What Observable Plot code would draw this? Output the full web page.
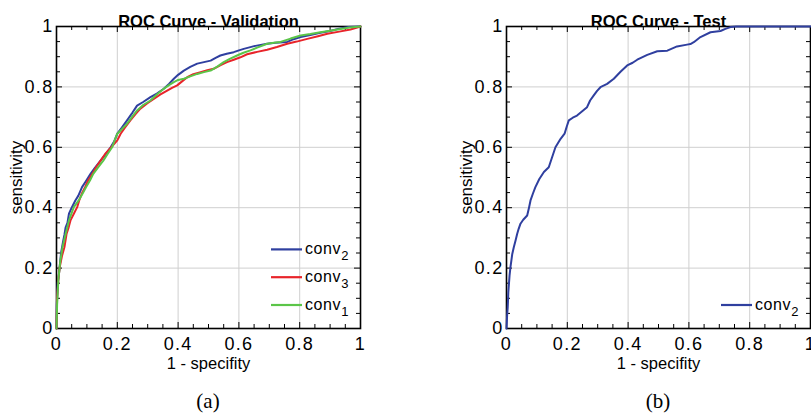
<!DOCTYPE html>
<html><head><meta charset="utf-8">
<script src="https://cdn.jsdelivr.net/npm/d3@7"></script>
<script src="https://cdn.jsdelivr.net/npm/@observablehq/plot@0.6"></script>
<style>
html,body{margin:0;padding:0;background:#fff;width:811px;height:414px;overflow:hidden;position:relative;font-family:"Liberation Sans",Arial,sans-serif;}
.panel{position:absolute;top:0;width:380px;height:375px;}
.panel svg{overflow:visible}
g[aria-label="x-axis tick label"] text, g[aria-label="y-axis tick label"] text{letter-spacing:1.3px;font-size:18px}
g[aria-label="title"] text{letter-spacing:1.2px}
g[aria-label="xlabel"] text{letter-spacing:0.9px}
.legend{position:absolute;left:0;top:0;}
.legend text{letter-spacing:0.6px}
.cap{position:absolute;font-family:"Liberation Serif","DejaVu Serif",serif;font-size:21px;top:389px;transform:translateX(-50%)}
</style></head><body>
<div id="a" class="panel" style="left:0"></div>
<div id="b" class="panel" style="left:450px"></div>
<div class="cap" style="left:208px">(a)</div>
<div class="cap" style="left:658px">(b)</div>
<script>
// ---- data: [1 - specificity, sensitivity]
const valConv2 = [[0,0],[0.001,0.08],[0.004,0.15],[0.008,0.18],[0.012,0.22],[0.015,0.25],[0.022,0.29],[0.026,0.31],[0.03,0.335],[0.036,0.35],[0.041,0.38],[0.05,0.40],[0.062,0.424],[0.072,0.44],[0.084,0.468],[0.095,0.485],[0.112,0.512],[0.125,0.53],[0.145,0.556],[0.16,0.575],[0.178,0.60],[0.19,0.62],[0.2,0.645],[0.215,0.665],[0.232,0.689],[0.25,0.715],[0.265,0.738],[0.285,0.75],[0.309,0.766],[0.33,0.778],[0.353,0.794],[0.37,0.81],[0.386,0.827],[0.40,0.84],[0.419,0.854],[0.44,0.866],[0.463,0.877],[0.485,0.882],[0.507,0.887],[0.525,0.897],[0.539,0.904],[0.56,0.91],[0.583,0.915],[0.60,0.921],[0.616,0.926],[0.65,0.935],[0.693,0.943],[0.72,0.946],[0.759,0.949],[0.78,0.958],[0.803,0.965],[0.835,0.972],[0.868,0.979],[0.9,0.985],[0.93,0.993],[0.96,0.998],[1,1]];
const valConv3 = [[0,0],[0.002,0.1],[0.006,0.16],[0.01,0.2],[0.018,0.24],[0.026,0.269],[0.033,0.313],[0.04,0.335],[0.046,0.358],[0.057,0.38],[0.068,0.402],[0.075,0.425],[0.083,0.446],[0.094,0.468],[0.104,0.49],[0.118,0.512],[0.13,0.534],[0.145,0.556],[0.16,0.578],[0.18,0.60],[0.2,0.623],[0.211,0.645],[0.225,0.665],[0.243,0.689],[0.26,0.71],[0.276,0.728],[0.298,0.745],[0.32,0.76],[0.342,0.775],[0.364,0.788],[0.38,0.797],[0.397,0.805],[0.415,0.82],[0.43,0.832],[0.45,0.842],[0.474,0.849],[0.496,0.855],[0.517,0.86],[0.54,0.872],[0.561,0.882],[0.583,0.89],[0.605,0.898],[0.627,0.908],[0.66,0.916],[0.693,0.923],[0.725,0.932],[0.759,0.943],[0.79,0.95],[0.825,0.959],[0.86,0.968],[0.891,0.976],[0.93,0.983],[0.967,0.99],[1,1]];
const valConv1 = [[0,0],[0.002,0.08],[0.006,0.16],[0.012,0.22],[0.02,0.27],[0.03,0.313],[0.041,0.358],[0.057,0.402],[0.073,0.424],[0.085,0.445],[0.097,0.468],[0.11,0.49],[0.121,0.512],[0.138,0.535],[0.154,0.556],[0.168,0.578],[0.183,0.60],[0.192,0.625],[0.2,0.645],[0.215,0.66],[0.232,0.678],[0.248,0.70],[0.265,0.722],[0.285,0.74],[0.309,0.755],[0.33,0.775],[0.353,0.794],[0.37,0.806],[0.386,0.816],[0.40,0.823],[0.419,0.827],[0.44,0.835],[0.463,0.843],[0.485,0.849],[0.507,0.854],[0.53,0.868],[0.55,0.882],[0.57,0.893],[0.594,0.904],[0.615,0.913],[0.638,0.921],[0.66,0.93],[0.693,0.943],[0.715,0.946],[0.737,0.949],[0.77,0.96],[0.803,0.97],[0.835,0.975],[0.868,0.981],[0.9,0.986],[0.934,0.992],[0.965,0.997],[1,1]];
const testConv2 = [[0,0],[0.001,0.02],[0.002,0.043],[0.004,0.07],[0.005,0.093],[0.006,0.12],[0.008,0.148],[0.01,0.175],[0.013,0.203],[0.016,0.225],[0.019,0.247],[0.024,0.269],[0.03,0.292],[0.035,0.313],[0.04,0.33],[0.046,0.347],[0.055,0.36],[0.068,0.374],[0.074,0.40],[0.079,0.424],[0.087,0.447],[0.095,0.468],[0.108,0.495],[0.123,0.518],[0.139,0.534],[0.15,0.567],[0.161,0.60],[0.17,0.615],[0.178,0.628],[0.191,0.645],[0.198,0.668],[0.205,0.689],[0.218,0.698],[0.232,0.705],[0.25,0.72],[0.265,0.733],[0.275,0.755],[0.287,0.772],[0.298,0.787],[0.309,0.799],[0.331,0.81],[0.353,0.827],[0.375,0.85],[0.397,0.871],[0.415,0.88],[0.43,0.89],[0.463,0.906],[0.496,0.918],[0.529,0.92],[0.561,0.934],[0.594,0.94],[0.605,0.942],[0.616,0.948],[0.638,0.965],[0.671,0.981],[0.704,0.985],[0.72,0.992],[0.737,0.998],[0.757,1],[1,1]];

const majorTicks = [0, 0.2, 0.4, 0.6, 0.8, 1];
const minorTicks = [0.05,0.1,0.15,0.25,0.3,0.35,0.45,0.5,0.55,0.65,0.7,0.75,0.85,0.9,0.95];
const titles = ["ROC Curve - Validation", "ROC Curve - Test"];
const xLabel = "1 - specifity";
const yLabel = "sensitivity";
const captions = ["(a)", "(b)"];

const BLUE = "#2f3f9f", RED = "#e8242a", GREEN = "#5bc548";
const validationSeries = [
  {name: "conv", sub: "2", data: valConv2, color: BLUE},
  {name: "conv", sub: "3", data: valConv3, color: RED},
  {name: "conv", sub: "1", data: valConv1, color: GREEN}
];
const testSeries = [
  {name: "conv", sub: "2", data: testConv2, color: BLUE}
];

const fmt = d => String(+d.toFixed(2));

function panel(el, title, series) {
  const W = 380, H = 375, mL = 56, mR = 20, mT = 26, mB = 47;
  const fw = W - mL - mR, fh = H - mT - mB;
  const ticks = (vals, len) => [
    Plot.ruleX(vals, {x: d => d, insetTop: fh - len, stroke: "#000", strokeWidth: 1}),
    Plot.ruleX(vals, {x: d => d, insetBottom: fh - len, stroke: "#000", strokeWidth: 1}),
    Plot.ruleY(vals, {y: d => d, insetRight: fw - len, stroke: "#000", strokeWidth: 1}),
    Plot.ruleY(vals, {y: d => d, insetLeft: fw - len, stroke: "#000", strokeWidth: 1})
  ];
  const chart = Plot.plot({
    width: W, height: H,
    marginLeft: mL, marginRight: mR, marginTop: mT, marginBottom: mB,
    style: {fontFamily: '"Liberation Sans", Arial, sans-serif', fontSize: "18px", background: "transparent", color: "#000"},
    x: {domain: [0, 1]},
    y: {domain: [0, 1]},
    marks: [
      Plot.gridX(majorTicks.slice(1, -1), {stroke: "#cfcfcf", strokeOpacity: 1, strokeWidth: 1}),
      Plot.gridY(majorTicks.slice(1, -1), {stroke: "#cfcfcf", strokeOpacity: 1, strokeWidth: 1}),
      ...ticks(majorTicks.slice(1, -1), 6),
      ...ticks(minorTicks, 4),
      Plot.frame({stroke: "#000", strokeWidth: 1.6}),
      ...series.map(s => Plot.line(s.data, {x: d => d[0], y: d => d[1], stroke: s.color, strokeWidth: 2, curve: "linear"})),
      Plot.axisX(majorTicks, {anchor: "bottom", tickSize: 0, tickPadding: 9, tickFormat: fmt, label: null, fontSize: 18}),
      Plot.axisY(majorTicks, {anchor: "left", tickSize: 0, tickPadding: 3, tickFormat: fmt, label: null, fontSize: 18}),
      Plot.text([title], {text: d => d, frameAnchor: "top", dy: -11, fontSize: 16.5, fontWeight: "bold", ariaLabel: "title"}),
      Plot.text([xLabel], {text: d => d, frameAnchor: "bottom", dy: 40, fontSize: 16.5, ariaLabel: "xlabel"}),
      Plot.text([yLabel], {text: d => d, frameAnchor: "left", textAnchor: "middle", dx: -40, rotate: -90, fontSize: 17})
    ]
  });
  el.appendChild(chart);

  // legend (bottom-right, inside frame)
  const lg = d3.select(el).append("svg").attr("class", "legend")
    .attr("width", W).attr("height", H).style("overflow", "visible");
  const n = series.length, step = 27.8, yLast = 305;
  series.forEach((s, i) => {
    const y = yLast - (n - 1 - i) * step;
    lg.append("line").attr("x1", 271).attr("x2", 302).attr("y1", y).attr("y2", y)
      .attr("stroke", s.color).attr("stroke-width", 2.2);
    const t = lg.append("text").attr("x", 305).attr("y", y + 5)
      .attr("font-size", 16).attr("fill", "#000")
      .attr("font-family", '"Liberation Sans", Arial, sans-serif');
    t.append("tspan").text(s.name);
    t.append("tspan").attr("dy", 6).attr("font-size", 13).text(s.sub);
  });
}

panel(document.getElementById("a"), titles[0], validationSeries);
panel(document.getElementById("b"), titles[1], testSeries);
document.querySelectorAll(".cap").forEach((c, i) => c.textContent = captions[i]);
</script>
</body></html>
